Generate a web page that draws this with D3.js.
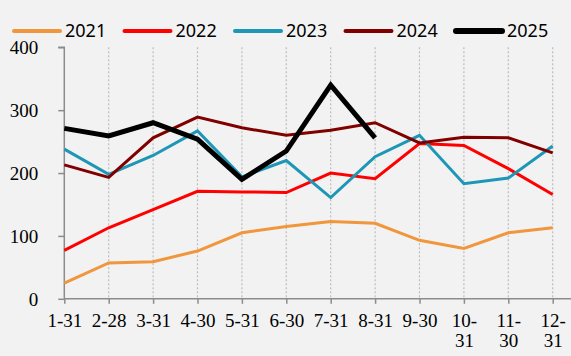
<!DOCTYPE html>
<html>
<head>
<meta charset="utf-8">
<script src="https://cdn.jsdelivr.net/npm/d3@7"></script>
<style>
  html, body { margin: 0; padding: 0; background: #F2F2F2; }
  svg { display: block; }
</style>
</head>
<body>
<svg id="chart" width="571" height="356"></svg>
<script>
const categories = ["1-31","2-28","3-31","4-30","5-31","6-30","7-31","8-31","9-30","10-31","11-30","12-31"];
const seriesNames = ["2021","2022","2023","2024","2025"];
const v2021 = [25, 57, 59, 76, 105, 115, 123, 120, 93, 80, 105, 113];
const v2022 = [77, 113, 142, 171, 170, 169, 200, 191, 247, 244, 207, 166];
const v2023 = [238, 198, 228, 267, 194, 220, 161, 226, 260, 183, 192, 243];
const v2024 = [213, 193, 256, 289, 272, 260, 268, 280, 248, 257, 256, 232];
const v2025 = [271, 259, 280, 254, 190, 235, 340, 256];
const yTicks = [0, 100, 200, 300, 400];
const colors = ["#F0963C", "#FF0000", "#1E96B6", "#800000", "#000000"];
const widths = [3, 3, 3, 3, 5];

const seriesValues = [v2021, v2022, v2023, v2024, v2025];

const svg = d3.select("#chart");
const x = d3.scalePoint().domain(categories).range([64.3, 552.7]);
const y = d3.scaleLinear().domain([0, 400]).range([298.8, 47.3]);

// background
svg.append("rect").attr("width", 571).attr("height", 356).attr("fill", "#F2F2F2");

// vertical dotted gridlines
svg.append("g").selectAll("line")
  .data(categories.slice(1))
  .join("line")
  .attr("x1", d => x(d)).attr("x2", d => x(d))
  .attr("y1", y(400)).attr("y2", y(0))
  .attr("stroke", "#BDBDBD").attr("stroke-width", 1.2)
  .attr("stroke-dasharray", "2,2");

// y axis
const yAxis = d3.axisLeft(y).tickValues(yTicks).tickSize(6).tickPadding(20);
const gy = svg.append("g").attr("transform", `translate(${x(categories[0])},0)`).call(yAxis);
gy.select(".domain").attr("stroke", "#8C8C8C").attr("stroke-width", 1.5).attr("d", `M-6,${y(400)}H0V${y(0)}`);
gy.selectAll(".tick line").attr("stroke", "#8C8C8C").attr("stroke-width", 1.5);
gy.selectAll(".tick text")
  .attr("font-family", "'Liberation Serif', 'Times New Roman', serif")
  .attr("font-size", 19).attr("fill", "#000").attr("dy", "0.33em");

// x axis
const xAxis = d3.axisBottom(x).tickSize(5).tickPadding(8);
const gx = svg.append("g").attr("transform", `translate(0,${y(0)})`).call(xAxis);
gx.select(".domain").attr("stroke", "#8C8C8C").attr("stroke-width", 1.5)
  .attr("d", `M${x(categories[0])},0H575`);
gx.selectAll(".tick line").attr("stroke", "#8C8C8C").attr("stroke-width", 1.5);
gx.selectAll(".tick text").each(function(d) {
  const t = d3.select(this);
  t.text(null)
    .attr("font-family", "'Liberation Serif', 'Times New Roman', serif")
    .attr("font-size", 19).attr("fill", "#000").attr("dy", null).attr("y", 28);
  const parts = d.length > 4 ? [d.slice(0, d.indexOf("-") + 1), d.slice(d.indexOf("-") + 1)] : [d];
  parts.forEach((p, i) => {
    t.append("tspan").attr("x", 0).attr("y", 28 + i * 20).text(p);
  });
});

// lines
const line = d3.line().x((d, i) => x(categories[i])).y(d => y(d));
seriesValues.forEach((vals, k) => {
  svg.append("path")
    .datum(vals)
    .attr("d", line)
    .attr("fill", "none")
    .attr("stroke", colors[k])
    .attr("stroke-width", widths[k])
    .attr("stroke-linejoin", "miter");
});

// legend
const legendX = [14, 124.5, 235, 345.5, 456];
const lg = svg.append("g");
seriesNames.forEach((name, k) => {
  const g = lg.append("g").attr("transform", `translate(${legendX[k]},31)`);
  g.append("line").attr("x1", 0).attr("x2", 46).attr("y1", 0).attr("y2", 0)
    .attr("stroke", colors[k]).attr("stroke-width", widths[k] + 1).attr("stroke-linecap", "round");
  g.append("text").attr("x", 51).attr("y", 5.5)
    .attr("font-family", "'Noto Sans', sans-serif").attr("font-size", 18)
    .attr("fill", "#000").text(name);
});
</script>
</body>
</html>
